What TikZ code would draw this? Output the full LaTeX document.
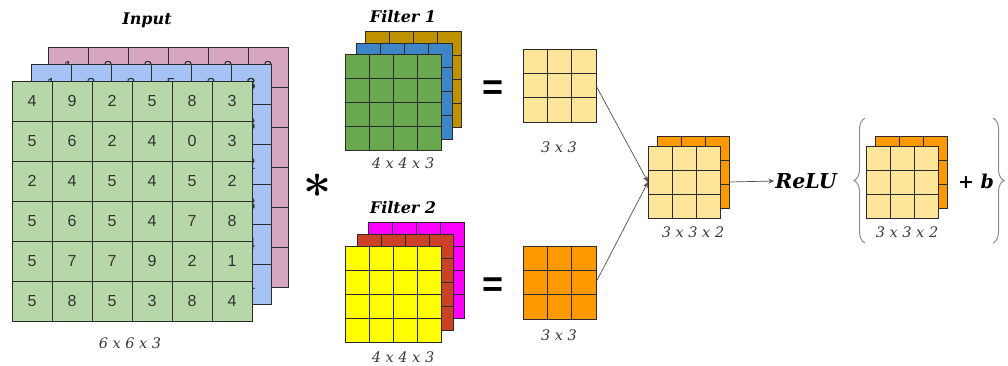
\documentclass[tikz,border=0pt]{standalone}
\usepackage{fontspec}
\setsansfont{Liberation Sans}
\newfontfamily\labelfont{DejaVu Serif}
\usetikzlibrary{arrows.meta,positioning,calc,decorations.pathreplacing}
\definecolor{InPink}{HTML}{D5A6BD}
\definecolor{InBlue}{HTML}{A4C2F4}
\definecolor{InGreen}{HTML}{B6D7A8}
\definecolor{FoneGold}{HTML}{BF9000}
\definecolor{FoneBlue}{HTML}{3D85C6}
\definecolor{FoneGreen}{HTML}{6AA84F}
\definecolor{FtwoYellow}{HTML}{FFFF00}
\definecolor{FtwoRed}{HTML}{CC4125}
\definecolor{FtwoMagenta}{HTML}{FF00FF}
\definecolor{OutLight}{HTML}{FFE599}
\definecolor{OutOrange}{HTML}{FF9900}
\definecolor{GridLine}{HTML}{2B2B2B}
\definecolor{LinkGray}{HTML}{505050}
\definecolor{BraceGray}{HTML}{8C8C8C}
\definecolor{LabelGray}{HTML}{3A3A3A}

\tikzset{
  layerbox/.style={draw=GridLine, line width=0.8pt, inner sep=0pt, outer sep=0pt, anchor=north west},
  gridline/.style={GridLine, line width=0.8pt},
  cellnum/.style={font=\sffamily\fontsize{16}{16}\selectfont, text=black!80, inner sep=0pt},
  dimlabel/.style={font=\labelfont\itshape\fontsize{14.5}{14.5}\selectfont, text=LabelGray},
  headlabel/.style={font=\labelfont\bfseries\itshape\fontsize{16}{16}\selectfont},
  opsign/.style={font=\sffamily\bfseries\fontsize{36}{36}\selectfont},
  link/.style={LinkGray, line width=0.7pt, -{Stealth[length=6pt,width=5pt]}},
  curly/.style={BraceGray, line width=1pt, decorate, decoration={brace, amplitude=11pt}}
}

% one square layer: name, left, top, cells per side, cell size, fill
\newcommand{\gridlayer}[6]{%
  \node[layerbox, fill=#6, minimum size=#4*#5pt] (#1) at (#2,#3) {};
  \foreach \k in {1,...,#4}{
    \draw[gridline] (#1.north west) ++(\k*#5pt,0pt) -- ++(0pt,-#4*#5pt);
    \draw[gridline] (#1.north west) ++(0pt,-\k*#5pt) -- ++(#4*#5pt,0pt);
  }}

\begin{document}
\begin{tikzpicture}[x=1pt, y=-1pt]
  \useasboundingbox (0,0) rectangle (1008,365);

  \gridlayer{inpink}{48}{47}{6}{40}{InPink}
  \foreach \v [count=\c] in {1,2,3,2,3,3}
    \node[cellnum] (inp-1-\c) at (48+40*\c-20,67) {\v};
  \gridlayer{inblue}{31}{64}{6}{40}{InBlue}
  \foreach \v [count=\c] in {1,2,3,5,2,3}
    \node[cellnum] (inb-1-\c) at (31+40*\c-20,84) {\v};
  \foreach \v [count=\r] in {3,3,2,3,4,1}
    \node[cellnum] (inb-\r-6) at (251,64+40*\r-20) {\v};
  \gridlayer{ingreen}{12}{81}{6}{40}{InGreen}
  \foreach \row [count=\r] in {{4,9,2,5,8,3},{5,6,2,4,0,3},{2,4,5,4,5,2},{5,6,5,4,7,8},{5,7,7,9,2,1},{5,8,5,3,8,4}}
    \foreach \v [count=\c] in \row
      \node[cellnum] (ing-\r-\c) at (12+40*\c-20,81+40*\r-20) {\v};
  \node[headlabel] (inputtitle) at (147,20) {Input};
  \node[dimlabel] (inputdim) at (130,343) {6 x 6 x 3};

  \node[font=\bfseries\fontsize{50}{50}\selectfont, inner sep=0pt] (conv) at (318,193) {*};

  \gridlayer{fonegold}{365}{31}{4}{24}{FoneGold}
  \gridlayer{foneblue}{356}{43}{4}{24}{FoneBlue}
  \gridlayer{fonegreen}{345}{54}{4}{24}{FoneGreen}
  \node[headlabel] (fonetitle) at (403,17) {Filter 1};
  \node[dimlabel] (fonedim) at (403,163) {4 x 4 x 3};

  \gridlayer{ftwomag}{368}{222}{4}{24}{FtwoMagenta}
  \gridlayer{ftwored}{357}{234}{4}{24}{FtwoRed}
  \gridlayer{ftwoyel}{345}{246}{4}{24}{FtwoYellow}
  \node[headlabel] (ftwotitle) at (403,208) {Filter 2};
  \node[dimlabel] (ftwodim) at (403,357) {4 x 4 x 3};

  \node[opsign] (eqone) at (493,90) {=};
  \node[opsign] (eqtwo) at (493,287) {=};

  \gridlayer{resone}{523}{49}{3}{24.3}{OutLight}
  \node[dimlabel] (resonedim) at (559,147) {3 x 3};
  \gridlayer{restwo}{523}{246}{3}{24.3}{OutOrange}
  \node[dimlabel] (restwodim) at (559,335) {3 x 3};

  \gridlayer{stackaback}{657}{136}{3}{24}{OutOrange}
  \gridlayer{stackafront}{648}{146}{3}{24}{OutLight}
  \node[dimlabel] (stackadim) at (693,232) {3 x 3 x 2};

  \draw[link] (resone.east) -- (stackafront.west);
  \draw[link] (restwo.east) -- (stackafront.west);

  \node[font=\labelfont\bfseries\itshape\fontsize{20.5}{20.5}\selectfont, inner sep=1pt] (relu) at (806,181) {ReLU};
  \draw[link] (stackaback.east |- stackafront.east) -- (relu.west);

  \coordinate (braceltop) at (865,118);
  \coordinate (bracelbot) at (865,243);
  \coordinate (braceRtop) at (993,118);
  \coordinate (braceRbot) at (993,243);
  \draw[curly] (bracelbot) -- (braceltop);
  \draw[curly] (braceRtop) -- (braceRbot);

  \gridlayer{stackbback}{875}{136}{3}{24}{OutOrange}
  \gridlayer{stackbfront}{866}{146}{3}{24}{OutLight}
  \node[dimlabel] (stackbdim) at (907,232) {3 x 3 x 2};
  \node[font=\labelfont\bfseries\fontsize{19}{19}\selectfont] (bias) at (976,181) {+ \textit{b}};
\end{tikzpicture}
\end{document}
